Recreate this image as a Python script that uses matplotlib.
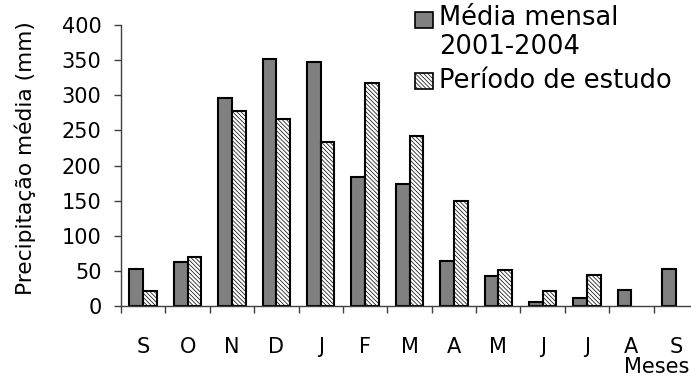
import matplotlib.pyplot as plt
from matplotlib.patches import Rectangle
import numpy as np

plt.rcParams['font.family'] = ['DejaVu Sans']
plt.rcParams['hatch.linewidth'] = 0.5

meses = ['S', 'O', 'N', 'D', 'J', 'F', 'M', 'A', 'M', 'J', 'J', 'A', 'S']
media_mensal = [52, 62, 296, 352, 347, 183, 174, 64, 43, 5, 12, 23, 52]
periodo_estudo = [22, 70, 278, 266, 234, 318, 242, 150, 51, 21, 44, 0, 0]

W, H = 691, 381
fig = plt.figure(figsize=(W / 100, H / 100), dpi=100)
# a largura do eixo passa um pouco da borda direita da figura
ax = fig.add_axes([121 / W, (H - 306) / H, 577 / W, 281 / H])

x = np.arange(len(meses)) + 0.5
largura = 0.31
hachura = '\\' * 8
ax.bar(x - largura / 2, media_mensal, largura, color='#808080',
       edgecolor='black', linewidth=1.5)
# meses sem dados do periodo de estudo ficam sem barra
mask = np.array(periodo_estudo) > 0
ax.bar(x[mask] + largura / 2, np.array(periodo_estudo)[mask], largura,
       color='white', edgecolor='black', linewidth=1.5, hatch=hachura)

ax.set_xlim(0, len(meses))
ax.set_ylim(0, 400)
ax.set_yticks(range(0, 401, 50))
ax.set_xticks(range(0, len(meses) + 1))
ax.set_xticklabels([])
ax.set_xticks(x, minor=True)
ax.set_xticklabels(meses, minor=True)
ax.tick_params(axis='x', which='minor', length=0, pad=22, labelsize=15)
ax.tick_params(axis='x', which='major', length=5, width=1, color='#404040')
ax.tick_params(axis='y', length=5, width=1, color='#404040', pad=9, labelsize=15)

for s in ['top', 'right']:
    ax.spines[s].set_visible(False)
for s in ['left', 'bottom']:
    ax.spines[s].set_color('#404040')
    ax.spines[s].set_linewidth(1)

fig.text(25 / W, 1 - 158 / H, 'Precipitação média (mm)', rotation=90,
         ha='center', va='center', fontsize=15.7)
fig.text(689 / W, 1 - 367 / H, 'Meses', ha='right', va='center', fontsize=15)

# legenda desenhada a mao
fig.add_artist(Rectangle((415 / W, 1 - 28 / H), 18 / W, 16 / H,
                         transform=fig.transFigure, facecolor='#808080',
                         edgecolor='black', linewidth=1.2))
fig.add_artist(Rectangle((415 / W, 1 - 89 / H), 18 / W, 16 / H,
                         transform=fig.transFigure, facecolor='white',
                         edgecolor='black', linewidth=1.2, hatch=hachura))
fig.text(439 / W, 1 - 18 / H, 'Média mensal', ha='left', va='center', fontsize=18.5)
fig.text(439 / W, 1 - 47 / H, '2001-2004', ha='left', va='center', fontsize=18.5)
fig.text(439 / W, 1 - 81 / H, 'Período de estudo', ha='left', va='center', fontsize=18.5)

fig.savefig('out.png', dpi=100)
